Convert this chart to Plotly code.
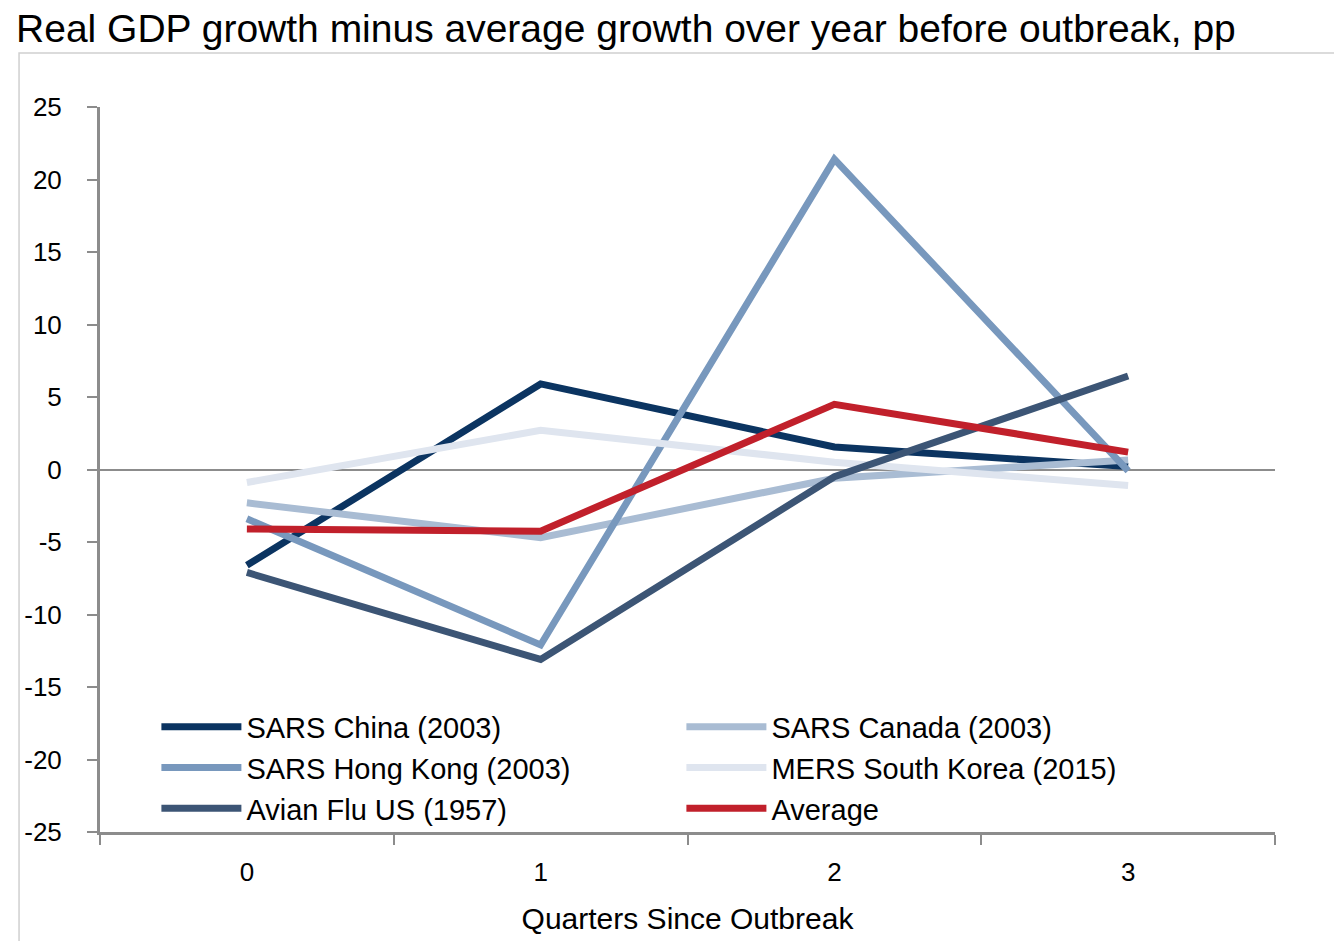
import plotly.graph_objs as go

quarters = ["0", "1", "2", "3"]

sars_china = [-6.6, 5.9, 1.55, 0.2]
sars_canada = [-2.3, -4.7, -0.6, 0.65]
sars_hong_kong = [-3.4, -12.1, 21.4, -0.1]
mers_korea = [-0.9, 2.7, 0.5, -1.1]
avian_flu_us = [-7.1, -13.1, -0.5, 6.45]
average = [-4.1, -4.25, 4.5, 1.2]

y_ticks = [-25, -20, -15, -10, -5, 0, 5, 10, 15, 20, 25]
y_tick_labels = ["-25", "-20", "-15", "-10", "-5", "0", "5", "10", "15", "20", "25"]

series = [
    ("SARS China (2003)", sars_china, "#0b3461"),
    ("SARS Canada (2003)", sars_canada, "#a9bcd3"),
    ("SARS Hong Kong (2003)", sars_hong_kong, "#7898bd"),
    ("MERS South Korea (2015)", mers_korea, "#dfe5ef"),
    ("Avian Flu US (1957)", avian_flu_us, "#3c5575"),
    ("Average", average, "#c1202b"),
]

font = "Liberation Sans, Arial, sans-serif"

fig = go.Figure()
for name, vals, color in series:
    fig.add_trace(
        go.Scatter(
            x=quarters, y=vals, name=name, mode="lines",
            line=dict(color=color, width=7),
        )
    )

# light frame around the chart area
fig.add_shape(
    type="rect", xref="paper", yref="paper",
    x0=-0.0689, x1=1.0545, y0=-0.2, y1=1.0745,
    line=dict(color="#d0d0d0", width=1.5), layer="below",
)

# the page body adds ~8px offset, so margins are shifted to compensate
fig.update_layout(
    width=1342,
    height=941,
    margin=dict(l=92, r=75, t=99, b=117, autoexpand=False),
    plot_bgcolor="white",
    paper_bgcolor="white",
    font=dict(family=font, color="black"),
    title=dict(
        text="Real GDP growth minus average growth over year before outbreak, pp",
        font=dict(size=39, family=font, color="black"),
        x=0.006, xanchor="left", xref="container",
        y=0.978, yanchor="middle", yref="container",
    ),
    showlegend=True,
    legend=dict(
        orientation="h",
        x=0.048, xanchor="left",
        y=0.18, yanchor="top",
        entrywidth=430, entrywidthmode="pixels",
        font=dict(size=29, family=font),
        bgcolor="rgba(0,0,0,0)",
        tracegroupgap=0,
        itemwidth=80,
    ),
    xaxis=dict(
        type="category",
        range=[-0.5, 3.5],
        showline=True, linecolor="#8c8c8c", linewidth=3,
        ticks="outside", tickson="boundaries", ticklen=10,
        tickcolor="#8c8c8c", tickwidth=2,
        showgrid=False, zeroline=False,
        tickfont=dict(size=26),
        ticklabelstandoff=15,
        automargin=False,
        title=dict(text="Quarters Since Outbreak", font=dict(size=30), standoff=22),
    ),
    yaxis=dict(
        range=[-25, 25],
        tickvals=y_ticks,
        ticktext=y_tick_labels,
        showline=True, linecolor="#8c8c8c", linewidth=3,
        ticks="outside", ticklen=10, tickcolor="#8c8c8c", tickwidth=2,
        showgrid=False,
        zeroline=True, zerolinecolor="#8c8c8c", zerolinewidth=2,
        tickfont=dict(size=26),
        ticklabelstandoff=20,
        automargin=False,
    ),
)

fig.write_html("out.html")
